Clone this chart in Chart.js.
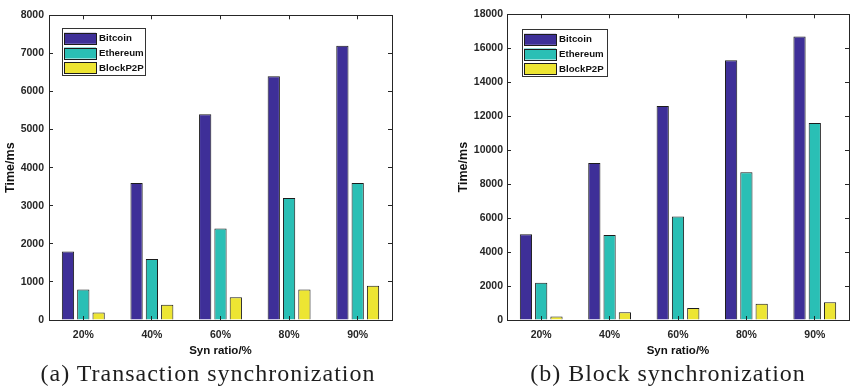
<!DOCTYPE html>
<html>
<head>
<meta charset="utf-8">
<script src="https://cdn.jsdelivr.net/npm/chart.js@4/dist/chart.umd.min.js"></script>
<style>
  html, body { margin: 0; padding: 0; background: #fff; }
  #wrap { position: relative; width: 851px; height: 389px; background: #fff; overflow: hidden; }
  canvas { position: absolute; top: 0; }
  .cap { position: absolute; top: 361px; width: 400px; text-align: center;
         font-family: "Liberation Serif", serif; font-size: 24px; line-height: 24px;
         letter-spacing: 1px; color: #1e1e1e; white-space: nowrap; }
</style>
</head>
<body>
<div id="wrap">
  <canvas id="c1" width="400" height="389" style="left:0px"></canvas>
  <canvas id="c2" width="398" height="389" style="left:453px"></canvas>
  <div class="cap" style="left:8px">(a) Transaction synchronization</div>
  <div class="cap" style="left:468px">(b) Block synchronization</div>
</div>
<script>
// ---- data ----
const categories = ['20%', '40%', '60%', '80%', '90%'];
const seriesNames = ['Bitcoin', 'Ethereum', 'BlockP2P'];
const txBitcoin  = [1800, 3600, 5400, 6400, 7200];
const txEthereum = [800, 1600, 2400, 3200, 3600];
const txBlockP2P = [200, 400, 600, 800, 900];
const blkBitcoin  = [5050, 9250, 12600, 15300, 16700];
const blkEthereum = [2200, 5000, 6100, 8700, 11600];
const blkBlockP2P = [200, 450, 700, 950, 1050];
const txAxis  = { max: 8000, step: 1000 };
const blkAxis = { max: 18000, step: 2000 };
const yTitle = 'Time/ms';
const xTitle = 'Syn ratio/%';

// ---- styles ----
const fills   = ['#3E2F98', '#2ABFB5', '#EDE533'];
const edge    = '#1c1c1c';
const axisCol = '#262626';
const FONT    = '"Liberation Sans", Arial, sans-serif';

const boxLegend = {
  id: 'boxLegend',
  afterDraw(chart, args, o) {
    const ctx = chart.ctx;
    const a = chart.chartArea;
    const x0 = a.left + o.dx, y0 = a.top + o.dy;
    ctx.save();
    ctx.fillStyle = '#fff';
    ctx.fillRect(x0, y0, o.w, o.h);
    ctx.strokeStyle = '#333';
    ctx.lineWidth = 1;
    ctx.strokeRect(Math.round(x0) + 0.5, Math.round(y0) + 0.5, o.w, o.h);
    ctx.font = 'bold 9.7px ' + FONT;
    ctx.textBaseline = 'middle';
    ctx.textAlign = 'left';
    chart.data.datasets.forEach((ds, i) => {
      const sy = y0 + o.firstTop + i * o.pitch;
      ctx.fillStyle = ds.backgroundColor;
      ctx.fillRect(x0 + 2, sy, o.sw, o.sh);
      ctx.strokeStyle = edge;
      ctx.strokeRect(Math.round(x0 + 2) + 0.5, Math.round(sy) + 0.5, o.sw, o.sh);
      ctx.fillStyle = '#111';
      ctx.fillText(ds.label, x0 + o.tx, sy + o.sh / 2 + 0.5);
    });
    ctx.restore();
  }
};

function makeChart(id, values, ax, lay) {
  const gridCfg = {
    drawOnChartArea: false, drawTicks: true, tickLength: -4,
    color: axisCol, lineWidth: 1, z: 1, offset: false
  };
  const borderCfg = { display: true, color: axisCol, width: 1, z: 1 };
  return new Chart(document.getElementById(id), {
    type: 'bar',
    data: {
      labels: categories,
      datasets: values.map((v, i) => ({
        label: seriesNames[i],
        data: v,
        backgroundColor: fills[i],
        borderColor: edge,
        borderWidth: 1,
        borderSkipped: 'start',
        xAxisID: 'x', yAxisID: 'y',
        categoryPercentage: 0.67,
        barPercentage: 0.8
      }))
    },
    options: {
      responsive: false,
      animation: false,
      devicePixelRatio: 1,
      layout: { padding: { left: 0, top: 13, right: lay.padRight, bottom: 0 } },
      plugins: {
        legend: { display: false },
        tooltip: { enabled: false },
        boxLegend: lay.legend
      },
      scales: {
        x: {
          type: 'category', position: 'bottom', offset: true,
          grid: gridCfg, border: borderCfg,
          ticks: { color: axisCol, padding: 13, font: { family: FONT, size: 10.5, weight: 'bold' }, maxRotation: 0 },
          title: { display: true, text: xTitle, color: '#111',
                   font: { family: FONT, size: 11.5, weight: 'bold' },
                   padding: { top: 0, bottom: 31 } },
          afterFit(s) { s.height = 69; }
        },
        x2: {
          type: 'category', position: 'top', offset: true,
          grid: gridCfg, border: borderCfg,
          ticks: { display: false },
          afterFit(s) { s.height = 0; }
        },
        y: {
          type: 'linear', position: 'left', min: 0, max: ax.max,
          grid: gridCfg, border: borderCfg,
          ticks: { stepSize: ax.step, color: axisCol, padding: lay.tickPad,
                   font: { family: FONT, size: 10.5, weight: 'bold' },
                   callback: (v) => String(v) },
          title: { display: true, text: yTitle, color: '#111',
                   font: { family: FONT, size: 12.5, weight: 'bold' },
                   padding: { top: 3.5, bottom: 0 } },
          afterFit(s) { s.width = lay.yWidth; }
        },
        y2: {
          type: 'linear', position: 'right', min: 0, max: ax.max,
          grid: gridCfg, border: borderCfg,
          ticks: { display: false, stepSize: ax.step },
          afterFit(s) { s.width = 0; }
        }
      }
    },
    plugins: [boxLegend]
  });
}

makeChart('c1', [txBitcoin, txEthereum, txBlockP2P], txAxis, {
  padRight: 8, yWidth: 49, tickPad: 9,
  legend: { dx: 13, dy: 13, w: 83, h: 47, firstTop: 4.5, pitch: 14.7, sw: 32, sh: 11, tx: 37 }
});
makeChart('c2', [blkBitcoin, blkEthereum, blkBlockP2P], blkAxis, {
  padRight: 2, yWidth: 54, tickPad: 8,
  legend: { dx: 15, dy: 15, w: 85, h: 47, firstTop: 4.5, pitch: 14.7, sw: 32, sh: 11, tx: 37 }
});
</script>
</body>
</html>
